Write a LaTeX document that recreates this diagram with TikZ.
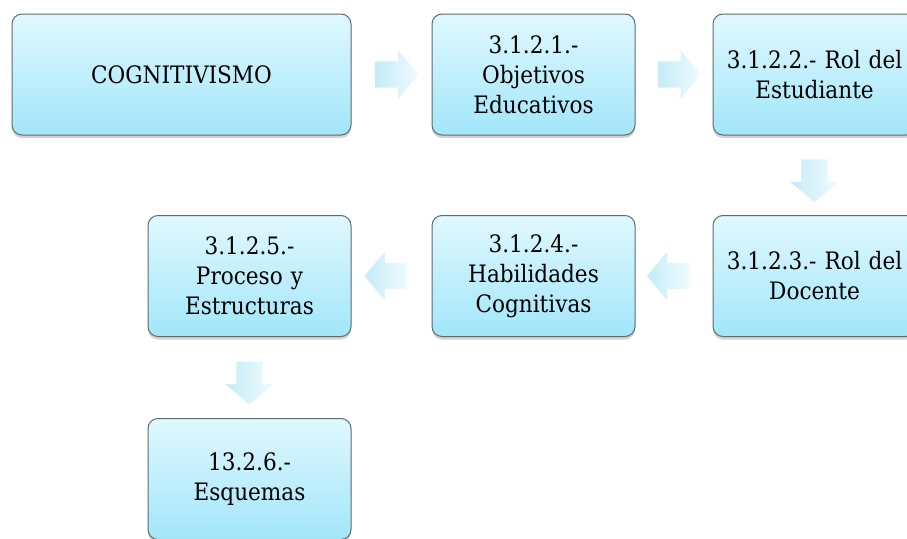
\documentclass[tikz,border=0pt]{standalone}
\usepackage{fontspec}
\setmainfont{DejaVu Serif}[FakeStretch=0.9]
\usetikzlibrary{shapes.arrows, shadows}

\definecolor{boxtop}{HTML}{E0F8FE}
\definecolor{boxbottom}{HTML}{A2E6FA}
\definecolor{boxline}{HTML}{5E6B70}
\definecolor{arrowtail}{HTML}{C4ECF8}
\definecolor{arrowhead}{HTML}{F0FBFE}

\begin{document}
\begin{tikzpicture}[x=1pt, y=1pt,
    topic/.style={rectangle, rounded corners=10pt, draw=boxline, line width=1pt,
        top color=boxtop, bottom color=boxbottom,
        minimum width=203pt, minimum height=121pt, text width=195pt, align=center,
        font=\fontsize{24}{30}\selectfont,
        drop shadow={shadow xshift=0pt, shadow yshift=-3pt, opacity=0.35}},
    flecha/.style={single arrow, draw=none, left color=arrowtail, right color=arrowhead,
        inner xsep=0pt, inner ysep=13pt, minimum width=0pt, minimum height=43pt,
        single arrow head extend=11pt, single arrow tip angle=100,
        sloped, allow upside down, midway}]
        \useasboundingbox (0, 0) rectangle (907, -538);
        \clip (0, 0) rectangle (907, -538);

        \node[topic, minimum width=339pt] (cog) at (181.5, -74.5) {COGNITIVISMO};
        \node[topic] (obj) at (533.5, -74.5) {3.1.2.1.-\\Objetivos\\Educativos};
        \node[topic] (est) at (814.5, -74.5) {3.1.2.2.- Rol del\\Estudiante};
        \node[topic] (doc) at (814.5, -276) {3.1.2.3.- Rol del\\Docente};
        \node[topic] (hab) at (533.5, -276) {3.1.2.4.-\\Habilidades\\Cognitivas};
        \node[topic] (pro) at (249.5, -276) {3.1.2.5.-\\Proceso y\\Estructuras};
        \node[topic] (esq) at (249.5, -479) {13.2.6.-\\Esquemas};

        \path (cog) -- (obj) node[flecha] {}
            (obj) -- (est) node[flecha] {}
            (est) -- (doc) node[flecha] {}
            (doc) -- (hab) node[flecha] {}
            (hab) -- (pro) node[flecha] {}
            (pro) -- (esq) node[flecha] {};
    \end{tikzpicture}
\end{document}
